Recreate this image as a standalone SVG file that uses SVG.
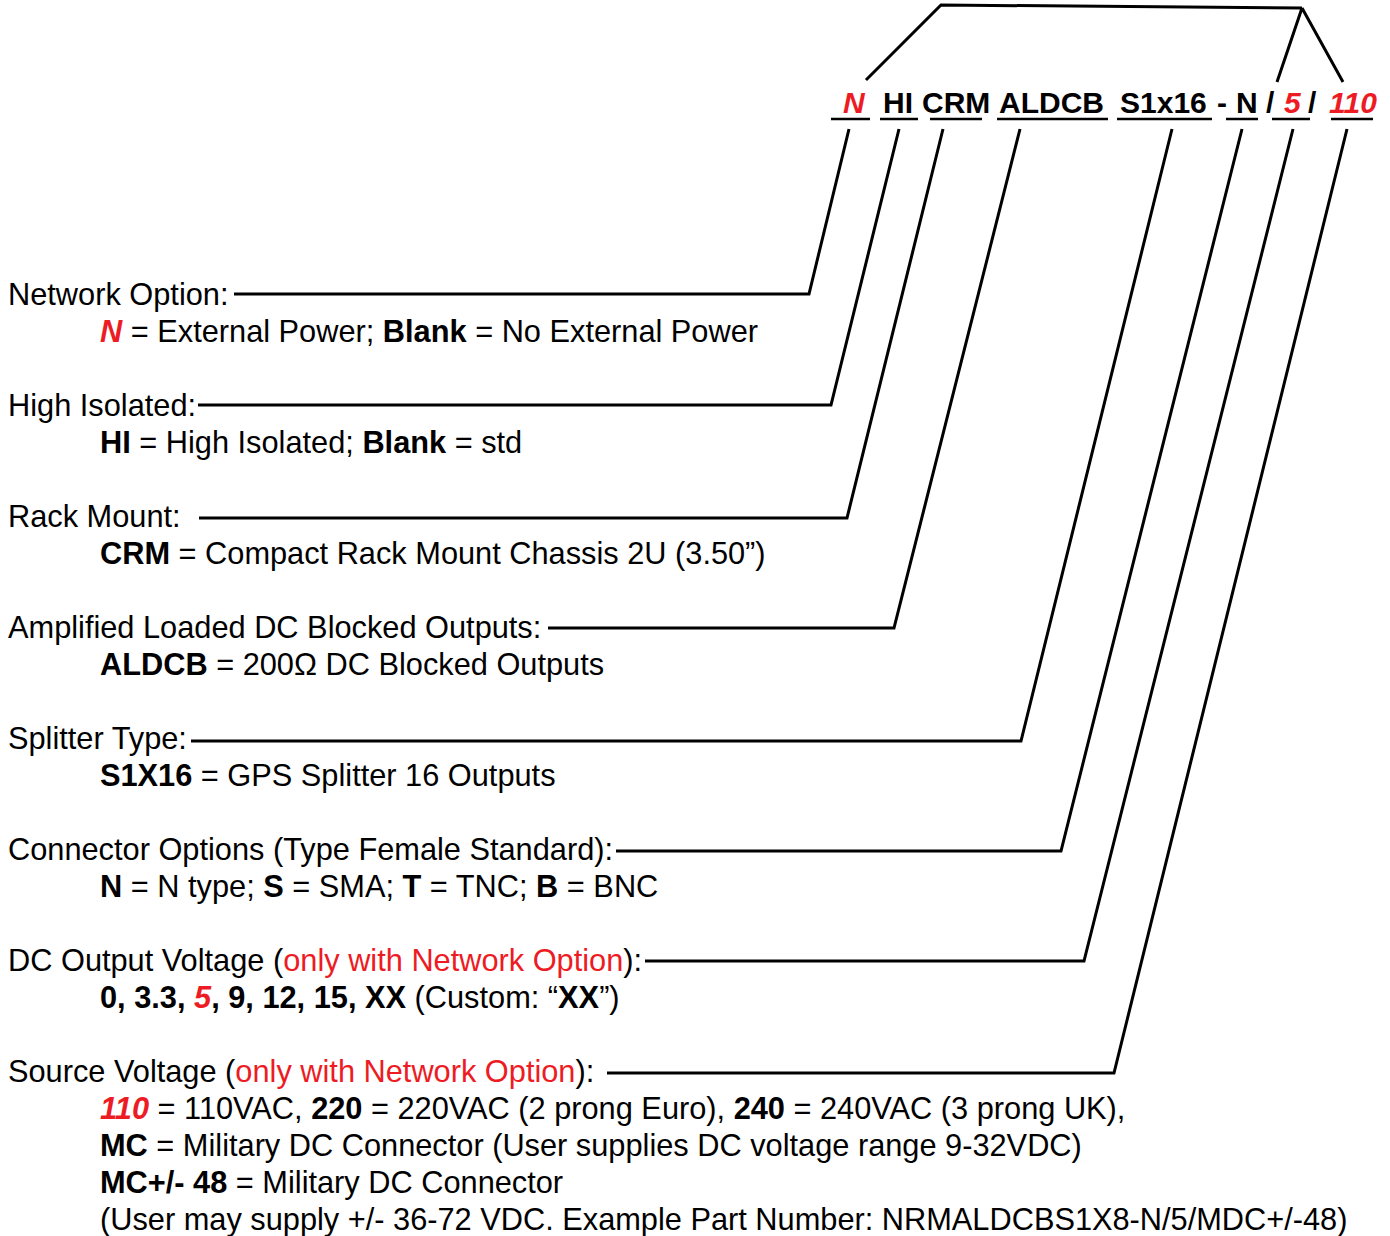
<svg xmlns="http://www.w3.org/2000/svg" width="1390" height="1236" viewBox="0 0 1390 1236">
<style>
text{font-family:"Liberation Sans",Arial,sans-serif;font-size:30.75px;fill:#000}
.b{font-weight:bold}
.r{fill:#ED1C24}
.i{font-style:italic}
.pn{font-weight:bold;font-size:30px}
.ln{fill:none;stroke:#000;stroke-width:3;stroke-linejoin:miter}
.ul{fill:none;stroke:#000;stroke-width:2.5}
</style>
<rect width="1390" height="1236" fill="#fff"/>
<g id="part-number">
<text class="pn r i" x="843" y="113">N</text>
<text class="pn" x="883" y="113">HI</text>
<text class="pn" x="922" y="113">CRM</text>
<text class="pn" x="999" y="113">ALDCB</text>
<text class="pn" x="1120" y="113">S1x16</text>
<text class="pn" x="1217" y="113">-</text>
<text class="pn" x="1236" y="113">N</text>
<text class="pn" x="1266" y="113">/</text>
<text class="pn r i" x="1284" y="113">5</text>
<text class="pn" x="1308" y="113">/</text>
<text class="pn r i" x="1329" y="113">110</text>
<path class="ul" d="M831,119H870M880,119H918M930,119H982M997,119H1108M1117,119H1212M1226,119H1258M1272,119H1310M1331,119H1373"/>
</g>
<g id="connectors">
<path class="ln" d="M866,80L941,5L1302,8M1302,8L1277,82M1302,8L1343,82"/>
<path class="ln" d="M849,129L809,294L234,294"/>
<path class="ln" d="M899,129L831,405L198,405"/>
<path class="ln" d="M943,129L847,518L199,518"/>
<path class="ln" d="M1020,129L894,628L548,628"/>
<path class="ln" d="M1172,129L1021,741L191,741"/>
<path class="ln" d="M1242,129L1061,851L616,851"/>
<path class="ln" d="M1293,129L1084,961L645,961"/>
<path class="ln" d="M1347,129L1114,1073L607,1073"/>
</g>
<g id="network-option">
<text x="8" y="305">Network Option:</text>
<text x="100" y="342"><tspan class="b i r">N</tspan> = External Power; <tspan class="b">Blank</tspan> = No External Power</text>
</g>
<g id="high-isolated">
<text x="8" y="416">High Isolated:</text>
<text x="100" y="453"><tspan class="b">HI</tspan> = High Isolated; <tspan class="b">Blank</tspan> = std</text>
</g>
<g id="rack-mount">
<text x="8" y="527">Rack Mount:</text>
<text x="100" y="564"><tspan class="b">CRM</tspan> = Compact Rack Mount Chassis 2U (3.50”)</text>
</g>
<g id="amplified">
<text x="8" y="638">Amplified Loaded DC Blocked Outputs:</text>
<text x="100" y="675"><tspan class="b">ALDCB</tspan> = 200Ω DC Blocked Outputs</text>
</g>
<g id="splitter-type">
<text x="8" y="749">Splitter Type:</text>
<text x="100" y="786"><tspan class="b">S1X16</tspan> = GPS Splitter 16 Outputs</text>
</g>
<g id="connector-options">
<text x="8" y="860">Connector Options (Type Female Standard):</text>
<text x="100" y="897"><tspan class="b">N</tspan> = N type; <tspan class="b">S</tspan> = SMA; <tspan class="b">T</tspan> = TNC; <tspan class="b">B</tspan> = BNC</text>
</g>
<g id="dc-output">
<text x="8" y="971">DC Output Voltage (<tspan class="r">only with Network Option</tspan>):</text>
<text x="100" y="1008"><tspan class="b">0, 3.3, </tspan><tspan class="b i r">5</tspan><tspan class="b">, 9, 12, 15, XX</tspan> (Custom: “<tspan class="b">XX</tspan>”)</text>
</g>
<g id="source-voltage">
<text x="8" y="1082">Source Voltage (<tspan class="r">only with Network Option</tspan>):</text>
<text x="100" y="1119"><tspan class="b i r">110</tspan> = 110VAC, <tspan class="b">220</tspan> = 220VAC (2 prong Euro), <tspan class="b">240</tspan> = 240VAC (3 prong UK),</text>
<text x="100" y="1156"><tspan class="b">MC</tspan> = Military DC Connector (User supplies DC voltage range 9-32VDC)</text>
<text x="100" y="1193"><tspan class="b">MC+/- 48</tspan> = Military DC Connector</text>
<text x="100" y="1230">(User may supply +/- 36-72 VDC. Example Part Number: NRMALDCBS1X8-N/5/MDC+/-48)</text>
</g>
</svg>
